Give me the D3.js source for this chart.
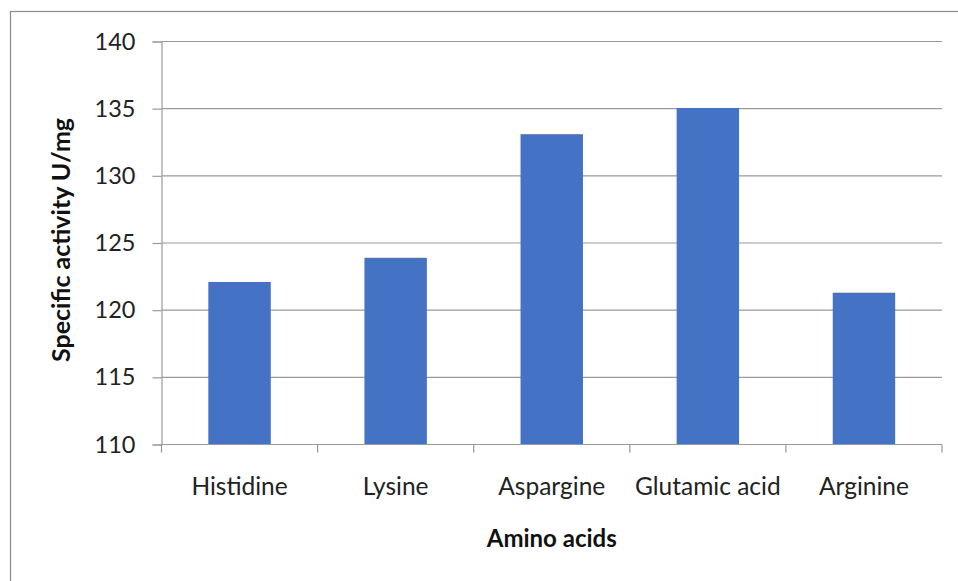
<!DOCTYPE html>
<html>
<head>
<meta charset="utf-8">
<script src="https://cdn.jsdelivr.net/npm/d3@7/dist/d3.min.js"></script>
<style>
  html, body { margin: 0; padding: 0; background: #fff; }
  svg { display: block; font-family: Lato, "Open Sans", sans-serif; }
</style>
</head>
<body>
<svg id="chart" width="958" height="581"></svg>
<script>
// Specific activity of the enzyme with different amino acids
const categories = ["Histidine", "Lysine", "Aspargine", "Glutamic acid", "Arginine"];
const activity = [122.1, 123.9, 133.1, 135.05, 121.3];
const yTicks = [110, 115, 120, 125, 130, 135, 140];
const xTitle = "Amino acids";
const yTitle = "Specific activity U/mg";

const svg = d3.select("#chart");
const plot = { left: 161.5, right: 942, top: 41.5, bottom: 444.5 };

// outer chart frame
svg.append("rect")
  .attr("x", 10.5).attr("y", 11.5)
  .attr("width", 960).attr("height", 600)
  .attr("fill", "none").attr("stroke", "#8c8c8c").attr("stroke-width", 1.2);

const x = d3.scaleBand().domain(categories)
  .range([plot.left, plot.right]).paddingInner(0.6).paddingOuter(0.3);
const xEdge = d3.scaleBand().domain(categories).range([plot.left, plot.right]);
const y = d3.scaleLinear().domain([110, 140]).range([plot.bottom, plot.top]);

// horizontal gridlines
svg.append("g").selectAll("line").data(yTicks.filter(t => t !== 110)).join("line")
  .attr("x1", plot.left).attr("x2", plot.right)
  .attr("y1", d => y(d)).attr("y2", d => y(d))
  .attr("stroke", "#9a9a9a").attr("stroke-width", 1.2);

// bars
svg.append("g").selectAll("rect").data(categories).join("rect")
  .attr("x", d => x(d))
  .attr("width", x.bandwidth())
  .attr("y", (d, i) => y(activity[i]))
  .attr("height", (d, i) => y(110) - y(activity[i]))
  .attr("fill", "#4472C4");

// y axis
const yAxis = svg.append("g").attr("transform", `translate(${plot.left},0)`)
  .call(d3.axisLeft(y).tickValues(yTicks).tickSize(9).tickPadding(17).tickFormat(d3.format("d")));
yAxis.select(".domain").attr("stroke", "#9a9a9a").attr("stroke-width", 1.2);
yAxis.selectAll(".tick line").attr("stroke", "#9a9a9a").attr("stroke-width", 1.2);
yAxis.selectAll(".tick text").attr("fill", "#222").style("font-size", "23.5px")
  .style("font-family", "Lato, 'Open Sans', sans-serif");

// x axis baseline and category separators
const xg = svg.append("g");
xg.append("line")
  .attr("x1", plot.left).attr("x2", plot.right)
  .attr("y1", plot.bottom).attr("y2", plot.bottom)
  .attr("stroke", "#9a9a9a").attr("stroke-width", 1.2);
const edges = categories.map(c => xEdge(c)).concat([plot.right]);
xg.selectAll("line.sep").data(edges).join("line").attr("class", "sep")
  .attr("x1", d => d).attr("x2", d => d)
  .attr("y1", plot.bottom).attr("y2", plot.bottom + 8)
  .attr("stroke", "#9a9a9a").attr("stroke-width", 1.2);
xg.selectAll("text").data(categories).join("text")
  .attr("x", d => xEdge(d) + xEdge.bandwidth() / 2)
  .attr("y", 495)
  .attr("text-anchor", "middle")
  .attr("fill", "#222")
  .style("font-size", "24.5px")
  .text(d => d);

// axis titles
svg.append("text")
  .attr("x", (plot.left + plot.right) / 2).attr("y", 547)
  .attr("text-anchor", "middle").attr("fill", "#111")
  .style("font-size", "24px").style("font-weight", "bold")
  .text(xTitle);
svg.append("text")
  .attr("transform", `translate(70,${(plot.top + plot.bottom) / 2 - 3}) rotate(-90)`)
  .attr("text-anchor", "middle").attr("fill", "#111")
  .style("font-size", "25px").style("font-weight", "bold")
  .text(yTitle);
</script>
</body>
</html>
